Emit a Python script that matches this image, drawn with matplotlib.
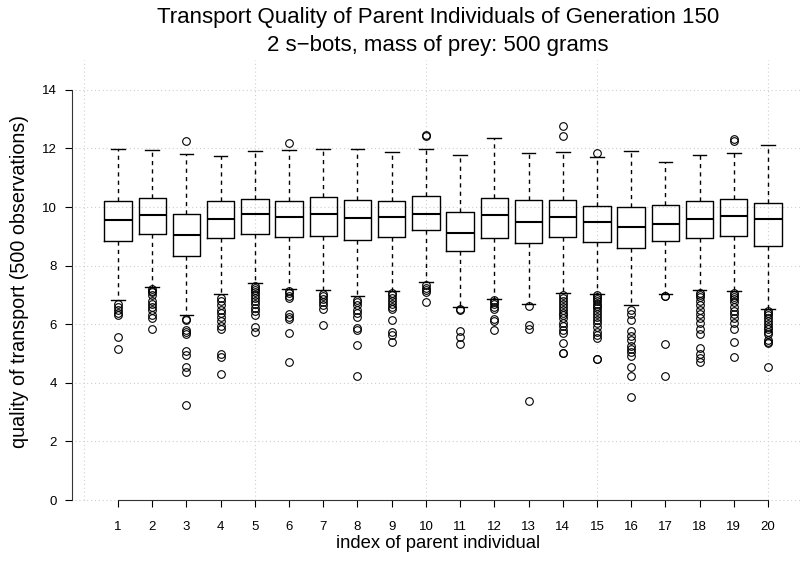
import matplotlib
matplotlib.use("Agg")
import matplotlib.pyplot as plt

plt.rcParams['font.family'] = ['Liberation Sans', 'DejaVu Sans']

individuals = list(range(1, 21))
whisker_hi = [11.97, 11.94, 11.81, 11.74, 11.93, 11.94, 11.99, 11.97, 11.89, 11.99,
              11.79, 12.36, 11.86, 11.87, 11.72, 11.93, 11.55, 11.79, 11.83, 12.11]
q3 = [10.21, 10.32, 9.75, 10.21, 10.28, 10.22, 10.36, 10.23, 10.21, 10.39,
      9.82, 10.32, 10.23, 10.25, 10.03, 9.99, 10.06, 10.20, 10.29, 10.15]
median = [9.56, 9.72, 9.06, 9.58, 9.75, 9.67, 9.78, 9.61, 9.65, 9.75,
          9.13, 9.72, 9.50, 9.65, 9.49, 9.31, 9.42, 9.59, 9.68, 9.58]
q1 = [8.85, 9.09, 8.34, 8.93, 9.08, 8.99, 9.00, 8.88, 8.97, 9.20,
      8.50, 8.93, 8.79, 8.97, 8.82, 8.60, 8.85, 8.94, 9.01, 8.68]
whisker_lo = [6.83, 7.26, 6.32, 7.04, 7.42, 7.21, 7.17, 6.96, 7.15, 7.44,
              6.59, 6.87, 6.68, 7.07, 7.04, 6.66, 7.02, 7.18, 7.15, 6.52]
outliers = [
    [6.70, 6.60, 6.50, 6.40, 6.30, 5.58, 5.17],
    [7.20, 7.15, 7.10, 7.00, 6.80, 6.70, 6.60, 6.50, 6.30, 6.20, 5.84],
    [12.26, 6.18, 6.14, 5.80, 5.75, 5.68, 5.09, 4.95, 4.55, 4.38, 3.23],
    [6.90, 6.80, 6.65, 6.50, 6.40, 6.25, 6.10, 5.95, 5.84, 4.98, 4.88, 4.31],
    [7.32, 7.25, 7.18, 7.10, 7.00, 6.90, 6.80, 6.70, 6.55, 6.45, 6.32, 5.92, 5.72],
    [12.17, 7.15, 7.05, 6.95, 6.88, 6.35, 6.25, 6.18, 5.70, 4.72],
    [7.03, 6.95, 6.85, 6.75, 6.65, 6.53, 5.99],
    [6.83, 6.75, 6.65, 6.50, 6.40, 6.24, 5.87, 5.80, 5.29, 4.24],
    [7.08, 7.00, 6.90, 6.80, 6.70, 6.60, 6.51, 6.15, 5.74, 5.63, 5.39],
    [12.46, 12.44, 7.34, 7.25, 7.18, 7.11, 6.77],
    [6.51, 6.49, 5.78, 5.55, 5.32],
    [6.82, 6.75, 6.68, 6.60, 6.53, 6.17, 6.11, 5.80],
    [6.61, 5.99, 5.84, 3.37],
    [12.76, 12.44, 7.00, 6.90, 6.80, 6.70, 6.60, 6.50, 6.40, 6.30, 6.20, 6.05, 5.95,
     5.80, 5.69, 5.37, 5.03, 5.01],
    [11.86, 7.00, 6.92, 6.85, 6.78, 6.70, 6.62, 6.55, 6.45, 6.35, 6.25, 6.15, 6.05,
     5.90, 5.75, 5.62, 5.52, 4.82, 4.80],
    [6.49, 6.35, 6.15, 5.78, 5.60, 5.45, 5.25, 5.15, 5.05, 4.92, 4.55, 4.24, 3.51],
    [6.98, 6.96, 5.32, 4.23],
    [7.08, 7.00, 6.92, 6.80, 6.65, 6.50, 6.35, 6.20, 6.05, 5.85, 5.65, 5.20, 4.98,
     4.85, 4.70],
    [12.31, 12.25, 7.08, 7.00, 6.92, 6.85, 6.75, 6.60, 6.45, 6.35, 6.22, 6.05, 5.84,
     5.38, 4.89],
    [6.46, 6.40, 6.30, 6.20, 6.10, 6.00, 5.92, 5.85, 5.75, 5.65, 5.45, 5.40, 5.37,
     4.55],
]
y_ticks = [0, 2, 4, 6, 8, 10, 12, 14]
x_grid = [0, 5, 10, 15, 20]

title_line1 = "Transport Quality of Parent Individuals of Generation 150"
title_line2 = "2 s\u2212bots, mass of prey: 500 grams"
x_label = "index of parent individual"
y_label = "quality of transport (500 observations)"

W, H = 804, 563
fig = plt.figure(figsize=(W / 100, H / 100), dpi=100)
ax = fig.add_axes([72 / W, (H - 503) / H, 728 / W, 443 / H])
ax.set_xlim(-0.345, 20.936)
ax.set_ylim(-0.102, 15.02)

grid_kw = dict(color="#cfcfcf", lw=0.8, linestyles=(0, (1, 2.5)), zorder=0)
ax.hlines(y_ticks, -0.25, 20.936, **grid_kw)
ax.vlines(x_grid, 0, 15.02, **grid_kw)

stats = []
for i in range(len(individuals)):
    stats.append(dict(med=median[i], q1=q1[i], q3=q3[i], whislo=whisker_lo[i],
                      whishi=whisker_hi[i], fliers=outliers[i], label=str(individuals[i])))

ax.bxp(stats, positions=individuals, widths=0.8, showfliers=True,
       boxprops=dict(color="black", lw=1.0),
       medianprops=dict(color="black", lw=1.5),
       whiskerprops=dict(color="black", lw=1.0, linestyle=(0, (3, 3))),
       capprops=dict(color="black", lw=1.0),
       capwidths=0.4,
       flierprops=dict(marker="o", markerfacecolor="none", markeredgecolor="black",
                       markersize=5.5, markeredgewidth=0.8))

for s in ["top", "right"]:
    ax.spines[s].set_visible(False)
ax.spines["left"].set_bounds(0, 14)
ax.spines["left"].set_color("#333333")
ax.spines["bottom"].set_position(("data", 0))
ax.spines["bottom"].set_bounds(1, 20)
ax.spines["bottom"].set_color("#333333")
ax.spines["bottom"].set_linestyle((0, (4, 1)))

ax.set_xticks(individuals)
ax.set_xticklabels([str(i) for i in individuals])
ax.set_yticks(y_ticks)
ax.set_yticklabels([str(v) for v in y_ticks])
ax.tick_params(axis="x", length=5, width=0.8, pad=10, labelsize=9.5, colors="black")
ax.tick_params(axis="y", length=5, width=0.8, pad=6, labelsize=9.5, colors="black")

fig.text(438 / W, 1 - 17 / H, title_line1, ha="center", va="center", fontsize=16)
fig.text(438 / W, 1 - 45 / H, title_line2, ha="center", va="center", fontsize=16)
fig.text(438 / W, 1 - 543 / H, x_label, ha="center", va="center", fontsize=13.3)
fig.text(20 / W, 1 - 282 / H, y_label, ha="center", va="center", fontsize=14.2, rotation=90)

fig.savefig("out.png", dpi=100)
